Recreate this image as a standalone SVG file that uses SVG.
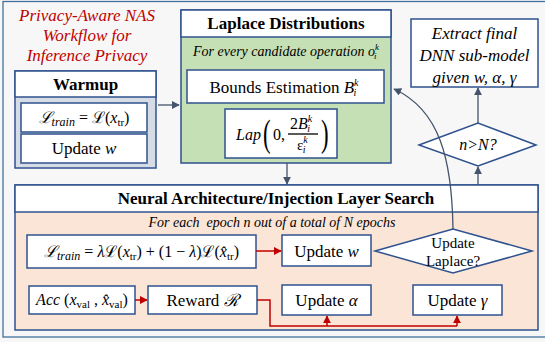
<svg xmlns="http://www.w3.org/2000/svg" width="545" height="342" viewBox="0 0 545 342">
<style>
.box{fill:#fff;stroke:#2f528f;stroke-width:1.5}
.hd{font-size:17px;font-weight:bold;text-anchor:middle}
.it{font-style:italic}
.dark{stroke:#44546a;stroke-width:1.3;fill:none}
.red{stroke:#c00000;stroke-width:1.5;fill:none}
.ttl{fill:#c00000;font-style:italic;font-size:17px;text-anchor:middle}
</style>
<defs>
<marker id="ad" viewBox="0 0 10 10" refX="9" refY="5" markerWidth="8" markerHeight="8" markerUnits="userSpaceOnUse" orient="auto"><path d="M0,0L10,5L0,10z" fill="#44546a"/></marker>
<marker id="ar" viewBox="0 0 10 10" refX="9" refY="5" markerWidth="8" markerHeight="8" markerUnits="userSpaceOnUse" orient="auto"><path d="M0,0L10,5L0,10z" fill="#c00000"/></marker>
</defs>
<rect x="0" y="0" width="545" height="342" fill="#f7f7f7"/>
<rect x="3" y="1.5" width="545" height="335.5" fill="#f7f7f7" stroke="#41719c" stroke-width="1.3"/>

<g id="title">
<text font-family="Liberation Serif" class="ttl" x="87" y="21">Privacy-Aware NAS</text>
<text font-family="Liberation Serif" class="ttl" x="87" y="41">Workflow for</text>
<text font-family="Liberation Serif" class="ttl" x="87" y="61">Inference Privacy</text>
</g>

<g id="warmup">
<rect x="15" y="71" width="141" height="97" fill="#d6dce5" stroke="#2f528f" stroke-width="1.5"/>
<rect x="15" y="71" width="141" height="26" class="box"/>
<text font-family="Liberation Serif" class="hd" x="85.5" y="90">Warmup</text>
<rect x="21" y="103" width="126" height="29" class="box"/>
<text font-family="Liberation Serif" x="84" y="123" font-size="16" text-anchor="middle"><tspan class="it">ℒ</tspan><tspan class="it" font-size="12" dy="3">train</tspan><tspan dy="-3"> = ℒ(</tspan><tspan class="it">x</tspan><tspan font-size="11" dy="3">tr</tspan><tspan dy="-3">)</tspan></text>
<rect x="21" y="134" width="126" height="29" class="box"/>
<text font-family="Liberation Serif" x="84" y="154" font-size="17" text-anchor="middle">Update <tspan class="it">w</tspan></text>
</g>

<g id="laplace">
<rect x="181" y="10" width="210" height="153" fill="#c5e0b4" stroke="#2f528f" stroke-width="1.5"/>
<rect x="181" y="10" width="210" height="27" class="box"/>
<text font-family="Liberation Serif" class="hd" x="286" y="29">Laplace Distributions</text>
<text font-family="Liberation Serif" class="it" x="286" y="56" font-size="14" text-anchor="middle">For every candidate operation o<tspan font-size="9" dy="-6">k</tspan><tspan font-size="9" dx="-5" dy="9">i</tspan></text>
<rect x="187" y="70" width="197" height="33" class="box"/>
<text font-family="Liberation Serif" x="284" y="93" font-size="17" text-anchor="middle">Bounds Estimation <tspan class="it">B</tspan><tspan class="it" font-size="10" dy="-7">k</tspan><tspan class="it" font-size="10" dx="-5" dy="10">i</tspan></text>
<rect x="225" y="109" width="112" height="49" class="box"/>
<text font-family="Liberation Serif" class="it" x="236" y="140" font-size="16">Lap</text>
<text font-family="Liberation Serif" x="263" y="146" font-size="38" transform="translate(263 146) scale(0.6 1) translate(-263 -146)">(</text>
<text font-family="Liberation Serif" x="273" y="140" font-size="16">0,</text>
<text font-family="Liberation Serif" x="290" y="129" font-size="16">2<tspan class="it">B</tspan><tspan class="it" font-size="10" dy="-7">k</tspan><tspan class="it" font-size="10" dx="-5" dy="10">i</tspan></text>
<line x1="288" y1="134" x2="318" y2="134" stroke="#000" stroke-width="1.3"/>
<text font-family="Liberation Serif" x="297" y="150" font-size="15">ε<tspan class="it" font-size="10" dy="-7">k</tspan><tspan class="it" font-size="10" dx="-5" dy="10">i</tspan></text>
<text font-family="Liberation Serif" x="321" y="146" font-size="38" transform="translate(321 146) scale(0.6 1) translate(-321 -146)">)</text>
</g>

<g id="extract">
<rect x="411" y="19" width="127" height="68" class="box"/>
<text font-family="Liberation Serif" class="it" x="474.5" y="39" font-size="17" text-anchor="middle">Extract final</text>
<text font-family="Liberation Serif" class="it" x="474.5" y="61" font-size="17" text-anchor="middle">DNN sub-model</text>
<text font-family="Liberation Serif" class="it" x="474.5" y="83" font-size="17" text-anchor="middle">given w, α, γ</text>
</g>

<g id="cond-n">
<polygon points="419,145 478,123 536,145 478,166" class="box"/>
<text font-family="Liberation Serif" class="it" x="478" y="150" font-size="16" text-anchor="middle">n&gt;N?</text>
</g>

<g id="nas">
<rect x="15" y="185" width="523" height="145" fill="#fbe5d6" stroke="#2f528f" stroke-width="1.5"/>
<rect x="15" y="185" width="523" height="27" class="box"/>
<text font-family="Liberation Serif" class="hd" x="276" y="204">Neural Architecture/Injection Layer Search</text>
<text font-family="Liberation Serif" class="it" x="272" y="227" font-size="14" text-anchor="middle" xml:space="preserve">For each  epoch n out of a total of N epochs</text>
</g>

<g id="loss">
<rect x="27" y="235" width="229" height="33" class="box"/>
<text font-family="Liberation Serif" x="141.5" y="257" font-size="16" text-anchor="middle"><tspan class="it">ℒ</tspan><tspan class="it" font-size="12" dy="3">train</tspan><tspan dy="-3"> = </tspan><tspan class="it">λ</tspan>ℒ(<tspan class="it">x</tspan><tspan font-size="11" dy="3">tr</tspan><tspan dy="-3">) + (1 − </tspan><tspan class="it">λ</tspan>)ℒ(<tspan class="it">x̂</tspan><tspan font-size="11" dy="3">tr</tspan><tspan dy="-3">)</tspan></text>
</g>

<g id="update-w">
<rect x="282" y="235" width="89" height="31" class="box"/>
<text font-family="Liberation Serif" x="326.5" y="257" font-size="17" text-anchor="middle">Update <tspan class="it">w</tspan></text>
</g>

<g id="cond-laplace">
<polygon points="375,251 453,229 532,251 453,273" class="box"/>
<text font-family="Liberation Serif" x="453" y="248" font-size="15" text-anchor="middle">Update</text>
<text font-family="Liberation Serif" x="453" y="266" font-size="15" text-anchor="middle">Laplace?</text>
</g>

<g id="acc">
<rect x="29" y="286" width="106" height="28" class="box"/>
<text font-family="Liberation Serif" x="82" y="305" font-size="16" text-anchor="middle"><tspan class="it">Acc</tspan> (<tspan class="it">x</tspan><tspan font-size="11" dy="3">val</tspan><tspan dy="-3"> , </tspan><tspan class="it">x̂</tspan><tspan font-size="11" dy="3">val</tspan><tspan dy="-3">)</tspan></text>
</g>

<g id="reward">
<rect x="148" y="286" width="109" height="28" class="box"/>
<text font-family="Liberation Serif" x="202.5" y="306" font-size="17" text-anchor="middle">Reward <tspan class="it">ℛ</tspan></text>
</g>

<g id="update-alpha">
<rect x="282" y="285" width="89" height="30" class="box"/>
<text font-family="Liberation Serif" x="326.5" y="306" font-size="17" text-anchor="middle">Update <tspan class="it">α</tspan></text>
</g>

<g id="update-gamma">
<rect x="413" y="285" width="89" height="30" class="box"/>
<text font-family="Liberation Serif" x="457.5" y="306" font-size="17" text-anchor="middle">Update <tspan class="it">γ</tspan></text>
</g>

<g id="connectors">
<line x1="158" y1="105" x2="179" y2="105" class="dark" marker-end="url(#ad)"/>
<line x1="287" y1="163" x2="287" y2="184" class="dark" marker-end="url(#ad)"/>
<line x1="478" y1="185" x2="478" y2="167" class="dark" marker-end="url(#ad)"/>
<line x1="478" y1="123" x2="478" y2="88" class="dark" marker-end="url(#ad)"/>
<path d="M453,229 C452,160 440,110 394,89" class="dark" marker-end="url(#ad)"/>
<line x1="256" y1="251" x2="281" y2="251" class="red" marker-end="url(#ar)"/>
<line x1="135" y1="300" x2="147" y2="300" class="red" marker-end="url(#ar)"/>
<path d="M257,300 H270 V326 H457" class="red"/>
<line x1="327" y1="326" x2="327" y2="316" class="red" marker-end="url(#ar)"/>
<line x1="457" y1="326" x2="457" y2="316" class="red" marker-end="url(#ar)"/>
</g>
</svg>
